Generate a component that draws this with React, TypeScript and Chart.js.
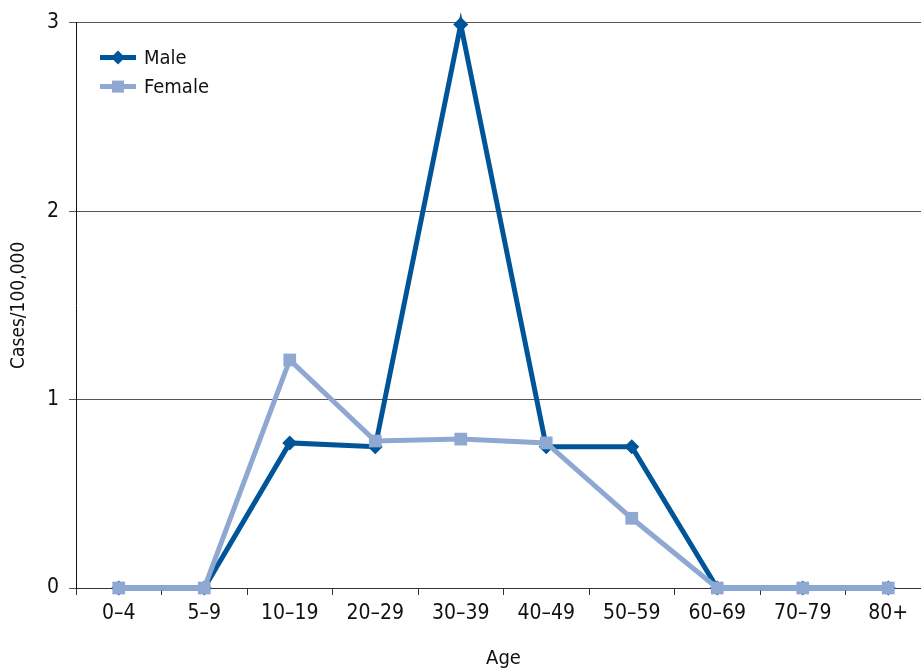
import React, { useEffect, useRef } from "react";
import { Chart, registerables } from "chart.js";

Chart.register(...registerables);

const categories = ["0–4", "5–9", "10–19", "20–29", "30–39", "40–49", "50–59", "60–69", "70–79", "80+"];
const maleValues = [0, 0, 0.77, 0.75, 2.99, 0.75, 0.75, 0, 0, 0];
const femaleValues = [0, 0, 1.21, 0.78, 0.79, 0.77, 0.37, 0, 0, 0];
const yTicks = [0, 1, 2, 3];

const MALE = "#005598";
const FEMALE = "#8ea8d2";
const FONT = "'DejaVu Sans Condensed', 'Roboto', sans-serif";

const legendPlugin = {
  id: "insideLegend",
  afterDraw(chart: any) {
    const ctx = chart.ctx;
    const { left, top } = chart.chartArea;
    const items = [
      { label: "Male", color: MALE, style: "diamond" },
      { label: "Female", color: FEMALE, style: "square" },
    ];
    ctx.save();
    items.forEach((it, i) => {
      const y = top + 35 + i * 29;
      const x0 = left + 24;
      const x1 = left + 60;
      ctx.strokeStyle = it.color;
      ctx.lineWidth = 5;
      ctx.beginPath();
      ctx.moveTo(x0, y);
      ctx.lineTo(x1, y);
      ctx.stroke();
      ctx.fillStyle = it.color;
      const cx = (x0 + x1) / 2;
      ctx.beginPath();
      if (it.style === "diamond") {
        ctx.moveTo(cx, y - 7);
        ctx.lineTo(cx + 7, y);
        ctx.lineTo(cx, y + 7);
        ctx.lineTo(cx - 7, y);
        ctx.closePath();
      } else {
        ctx.rect(cx - 6, y - 6, 12, 12);
      }
      ctx.fill();
      ctx.fillStyle = "#111";
      ctx.font = `20px ${FONT}`;
      ctx.textBaseline = "middle";
      ctx.textAlign = "left";
      ctx.fillText(it.label, x1 + 8, y + 1);
    });
    ctx.restore();
  },
};

export default function App() {
  const ref = useRef<HTMLCanvasElement>(null);
  useEffect(() => {
    document.body.style.margin = "0";
    document.body.style.overflow = "hidden";
    const chart = new Chart(ref.current!, {
      type: "line",
      data: {
        labels: categories,
        datasets: [
          {
            label: "Male",
            data: maleValues,
            borderColor: MALE,
            backgroundColor: MALE,
            borderWidth: 5,
            pointStyle: "rectRot",
            pointRadius: 7.5,
            pointBorderWidth: 0,
            order: 1,
            tension: 0,
            clip: false,
          },
          {
            label: "Female",
            data: femaleValues,
            borderColor: FEMALE,
            backgroundColor: FEMALE,
            borderWidth: 5,
            pointStyle: "rect",
            pointRadius: 9,
            pointBorderWidth: 0,
            order: 0,
            tension: 0,
            clip: false,
          },
        ],
      },
      options: {
        animation: false,
        responsive: false,
        devicePixelRatio: 1,
        layout: { padding: { top: 22, right: 9, left: 0, bottom: 0 } },
        plugins: { legend: { display: false }, tooltip: { enabled: false } },
        scales: {
          x: {
            offset: true,
            grid: { offset: true, drawOnChartArea: false, drawTicks: true, tickLength: 7, color: "#333" },
            border: { color: "#333", width: 1 },
            ticks: { color: "#111", font: { family: FONT, size: 21 }, padding: 6, maxRotation: 0, autoSkip: false },
            title: { display: true, text: "Age", color: "#111", font: { family: FONT, size: 20 }, padding: { top: 0, bottom: -1 } },
            afterFit(scale: any) { scale.height = 82; },
          },
          y: {
            min: 0,
            max: 3,
            afterBuildTicks(scale: any) { scale.ticks = yTicks.map((v) => ({ value: v })); },
            grid: { color: "#555", lineWidth: 1, tickLength: 7, drawTicks: true },
            border: { color: "#111", width: 1 },
            ticks: { color: "#111", font: { family: FONT, size: 21 }, padding: 10 },
            title: { display: true, text: "Cases/100,000", color: "#111", font: { family: FONT, size: 19 }, padding: { top: 8, bottom: 0 } },
            afterFit(scale: any) { scale.width = 76; },
          },
        },
      },
      plugins: [legendPlugin],
    });
    return () => chart.destroy();
  }, []);
  return (
    <div style={{ position: "absolute", left: 0, top: 0, width: 921, height: 670, overflow: "hidden" }}>
      <canvas ref={ref} width={940} height={670} style={{ display: "block", width: 940, height: 670 }} />
    </div>
  );
}
